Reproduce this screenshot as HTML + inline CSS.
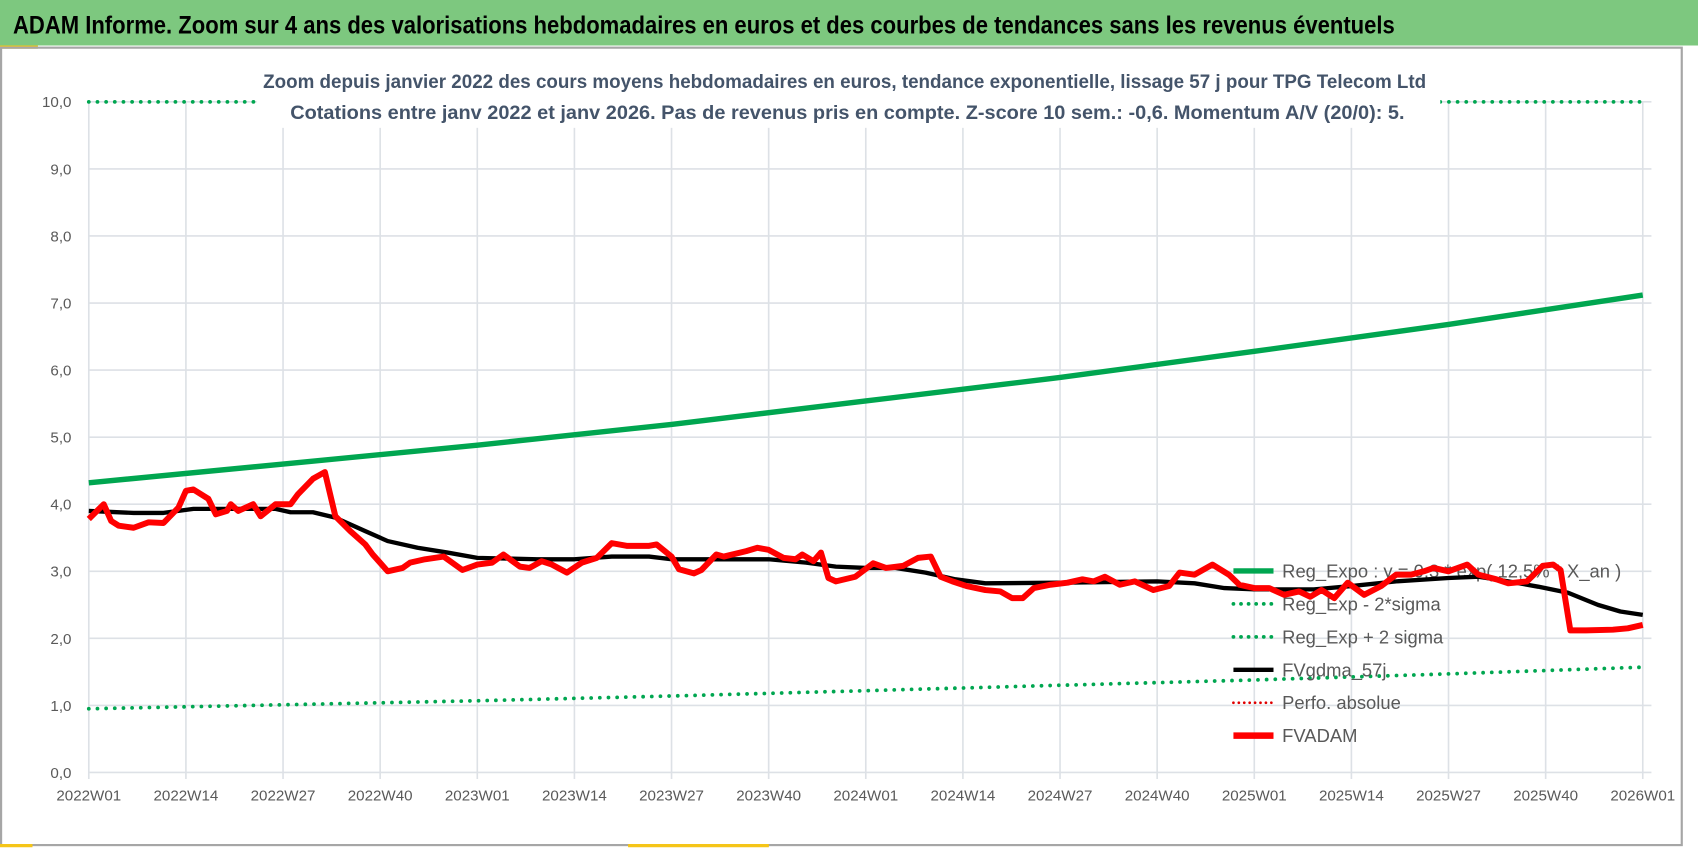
<!DOCTYPE html>
<html><head><meta charset="utf-8"><style>
html,body{margin:0;padding:0;background:#fff;}
svg{display:block;font-family:"Liberation Sans",sans-serif;}
</style></head><body>
<svg id="chart" width="1698" height="857" viewBox="0 0 1568 791" preserveAspectRatio="none" xmlns="http://www.w3.org/2000/svg">
<rect x="0" y="0" width="1568" height="791" fill="#fff"/>
<rect x="0" y="0" width="1568" height="42" fill="#7DC87F"/>
<text x="12" y="31" font-size="23" font-weight="bold" fill="#000" textLength="1276" lengthAdjust="spacingAndGlyphs">ADAM Informe. Zoom sur 4 ans des valorisations hebdomadaires en euros et des courbes de tendances sans les revenus éventuels</text>
<rect x="0" y="42" width="35" height="3" fill="#F5C518"/>
<rect x="1" y="44" width="1552" height="736" fill="none" stroke="#A6A6A6" stroke-width="2"/>
<rect x="580" y="779" width="130" height="3" fill="#F5C518"/>
<rect x="0" y="779" width="30" height="3" fill="#F5C518"/>
<g id="grid"></g>
<g id="axes"></g>
<g id="series"></g>
<rect x="237" y="60" width="1093" height="58" fill="#fff"/>
<text x="243" y="81" font-size="18" font-weight="bold" fill="#44546A" textLength="1074" lengthAdjust="spacingAndGlyphs">Zoom depuis janvier 2022 des cours moyens hebdomadaires en euros, tendance exponentielle, lissage 57 j pour TPG Telecom Ltd</text>
<text x="268" y="110" font-size="18" font-weight="bold" fill="#44546A" textLength="1029" lengthAdjust="spacingAndGlyphs">Cotations entre janv 2022 et janv 2026. Pas de revenus pris en compte. Z-score 10 sem.: -0,6. Momentum A/V (20/0): 5.</text>
<g id="legend"></g>
<g id="series2"></g>
</svg>
<script>
const yTicks=[0,1,2,3,4,5,6,7,8,9,10];
const xTickLabels=["2022W01","2022W14","2022W27","2022W40","2023W01","2023W14","2023W27","2023W40","2024W01","2024W14","2024W27","2024W40","2025W01","2025W14","2025W27","2025W40","2026W01"];
const xTickWeeks=[0,13,26,39,52,65,78,91,104,117,130,143,156,169,182,195,208];
const regWeeks=[0,26,52,78,104,130,156,182,208];
const regExpo=[4.32,4.6,4.88,5.19,5.54,5.89,6.28,6.68,7.12];
const regLow=[0.95,1.01,1.07,1.14,1.22,1.30,1.38,1.47,1.57];
const regHigh=[10,10,10,10,10,10,10,10,10];
const blackWeeks=[0,6,10,14,20,25,27,30,33,37,40,44,48,52,60,65,70,75,78,91,96,100,104,108,112,116,120,130,143,148,152,156,164,169,175,182,186,190,194,198,202,205,208];
const blackVals=[3.9,3.87,3.87,3.93,3.93,3.93,3.88,3.88,3.8,3.6,3.45,3.35,3.28,3.2,3.18,3.18,3.22,3.22,3.18,3.18,3.13,3.07,3.05,3.05,2.98,2.88,2.82,2.83,2.85,2.82,2.75,2.73,2.73,2.78,2.85,2.9,2.92,2.85,2.77,2.68,2.5,2.4,2.35];
const redWeeks=[0,2,3,4,6,8,10,12,13,14,16,17,18.5,19,20,22,23,25,27,28,30,31.6,33,35,37,38,40,42,43,45,47.5,50,52,54,55.5,57.7,59,60.6,62,64,66,68,70,72,75,76,78,79,81,82,84,85,88,89.5,91,93,94.6,95.5,97,98,99,100,102.6,105,106.7,109,111,112.7,114,115.6,117.5,120,122,123.6,125,126.5,128.7,131,133,134.5,136,138,140,142.5,144.6,146,148,150.4,152.6,154,156,158,160,162,163.5,165,166.7,168.5,170.7,173,175,177,178.7,180,182,184.5,186,188.4,190,192.5,194.6,196,197,198.3,200.4,204,206,208];
const redVals=[3.78,4.0,3.75,3.68,3.65,3.73,3.72,3.95,4.2,4.22,4.08,3.85,3.9,4.0,3.9,4.0,3.82,4.0,4.0,4.15,4.38,4.48,3.82,3.6,3.4,3.25,3.0,3.05,3.13,3.18,3.22,3.02,3.1,3.13,3.25,3.07,3.05,3.15,3.1,2.98,3.13,3.2,3.42,3.38,3.38,3.4,3.22,3.03,2.97,3.02,3.25,3.22,3.3,3.35,3.32,3.2,3.18,3.25,3.15,3.28,2.9,2.85,2.92,3.12,3.05,3.08,3.2,3.22,2.92,2.85,2.78,2.72,2.7,2.6,2.6,2.75,2.8,2.83,2.88,2.85,2.92,2.8,2.85,2.72,2.78,2.98,2.95,3.1,2.95,2.8,2.75,2.75,2.65,2.7,2.62,2.72,2.6,2.83,2.65,2.78,2.95,2.95,3.0,3.05,3.0,3.1,2.95,2.88,2.82,2.85,3.08,3.1,3.02,2.12,2.12,2.13,2.15,2.2];
const legendLabels=["Reg_Expo : y = 0,3 * exp( 12,5% * X_an )","Reg_Exp - 2*sigma","Reg_Exp + 2 sigma","FVgdma_57j","Perfo. absolue","FVADAM"];

const NS="http://www.w3.org/2000/svg";
const X0=82,X1=1517,Y0=713,Y10=94;
function xs(w){return X0+(X1-X0)*w/208;}
function ys(v){return Y0-(Y0-Y10)*v/10;}
function mk(tag,attrs,parent){const e=document.createElementNS(NS,tag);for(const k in attrs)e.setAttribute(k,attrs[k]);parent.appendChild(e);return e;}
const grid=document.getElementById('grid'),axes=document.getElementById('axes'),series=document.getElementById('series'),legend=document.getElementById('legend'),series2=document.getElementById('series2');
yTicks.forEach(v=>{
  const l=mk('line',{x1:X0,x2:X1+8,y1:ys(v),y2:ys(v),stroke:'#DDE1E6','stroke-width':1.5},grid);
  
  
  const t=mk('text',{x:66,y:ys(v)+5,'font-size':14,fill:'#595959','text-anchor':'end'},axes);
  
  
  t.textContent=v.toFixed(1).replace('.',',');
});
xTickWeeks.forEach((w,i)=>{
  const l=mk('line',{x1:xs(w),x2:xs(w),y1:Y10,y2:Y0+6,stroke:'#DDE1E6','stroke-width':1.5},grid);
  
  
  const t=mk('text',{x:xs(w),y:Y0+26,'font-size':14,fill:'#595959','text-anchor':'middle'},axes);
  
  
  t.textContent=xTickLabels[i];
});
function pts(ws,vs){return ws.map((w,i)=>xs(w).toFixed(1)+','+ys(vs[i]).toFixed(1)).join(' ');}
const s1=mk('polyline',{points:pts(regWeeks,regHigh),fill:'none',stroke:'#00A650','stroke-width':3.5,'stroke-dasharray':'0 8','stroke-linecap':'round'},series);


const s2=mk('polyline',{points:pts(regWeeks,regLow),fill:'none',stroke:'#00A650','stroke-width':3.5,'stroke-dasharray':'0 8','stroke-linecap':'round'},series);


const s3=mk('polyline',{points:pts(regWeeks,regExpo),fill:'none',stroke:'#00A650','stroke-width':5},series);


// legend
const lStyles=[{c:'#00A650',w:5,d:''},{c:'#00A650',w:3.5,d:'0 7'},{c:'#00A650',w:3.5,d:'0 7'},{c:'#000',w:4,d:''},{c:'#E00000',w:2.5,d:'0 5'},{c:'#FF0000',w:6,d:''}];
legendLabels.forEach((lab,i)=>{
  const y=527+30.4*i;
  const st=lStyles[i];
  const a={x1:1139,x2:1176,y1:y,y2:y,stroke:st.c,'stroke-width':st.w};
  if(st.d){a['stroke-dasharray']=st.d;a['stroke-linecap']='round';}
  const l=mk('line',a,legend);
  
  
  const t=mk('text',{x:1184,y:y+6,'font-size':17,fill:'#595959'},legend);
  
  
  t.textContent=lab;
});
const s4=mk('polyline',{points:pts(blackWeeks,blackVals),fill:'none',stroke:'#000','stroke-width':4,'stroke-linejoin':'round'},series2);


const s5=mk('polyline',{points:pts(redWeeks,redVals),fill:'none',stroke:'#FF0000','stroke-width':5.5,'stroke-linejoin':'round'},series2);


</script>
</body></html>
